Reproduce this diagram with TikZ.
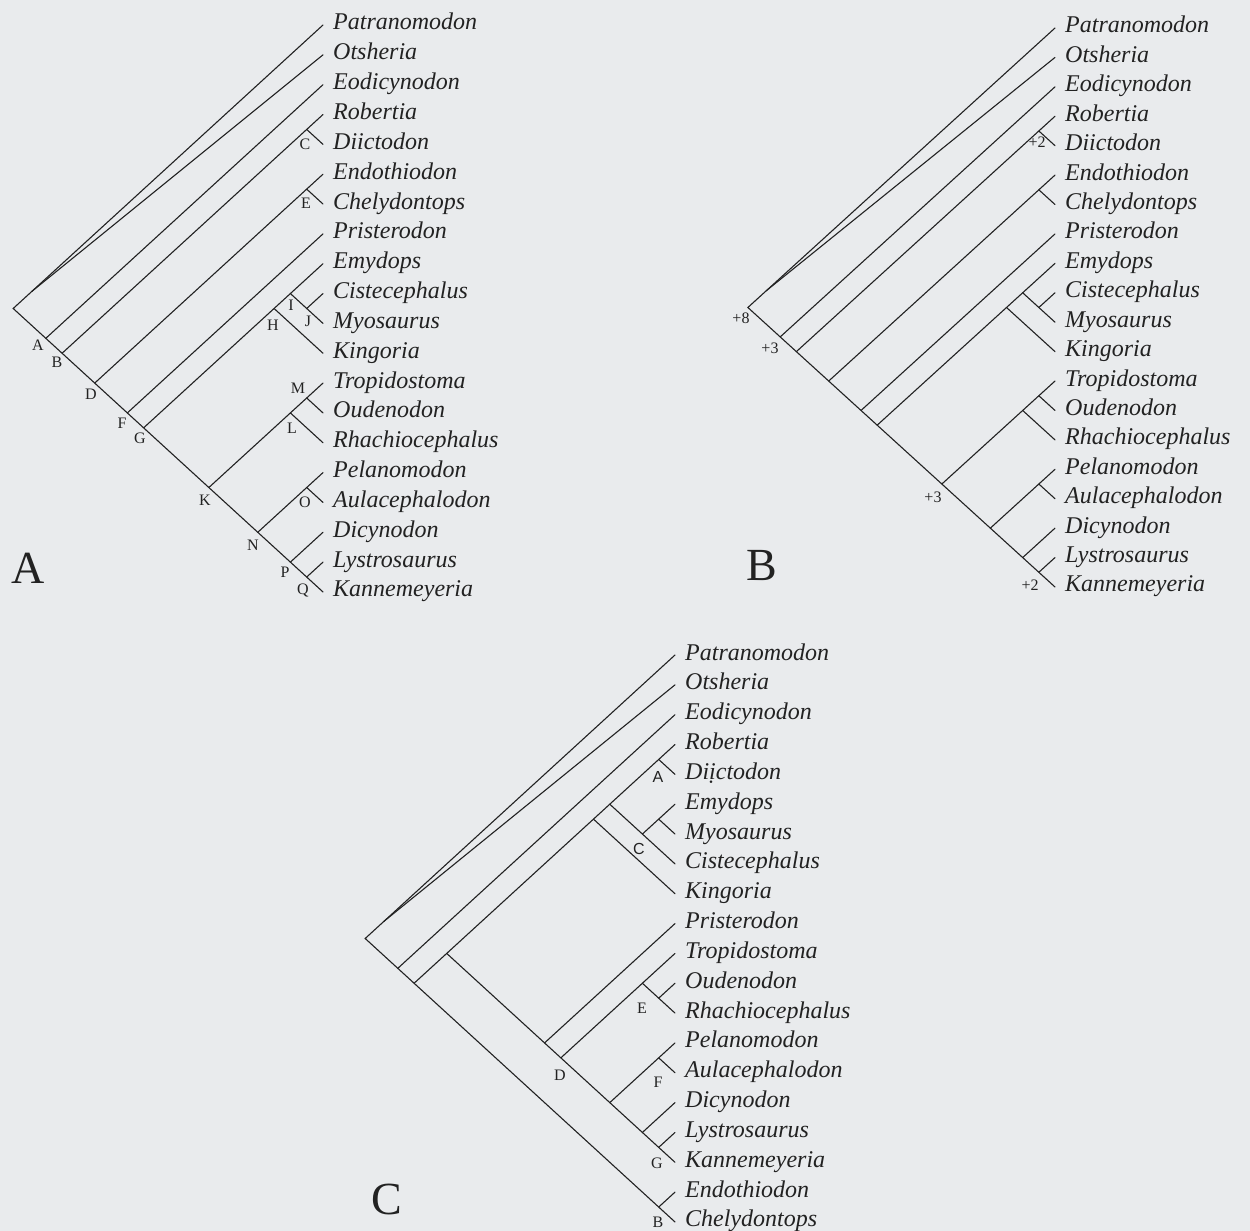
\documentclass[tikz,border=0pt]{standalone}
\usepackage{fontspec}
\setmainfont{Liberation Serif}
\newfontfamily\lsans{Liberation Sans}
\usetikzlibrary{calc}
\definecolor{paper}{HTML}{E9EBED}
\definecolor{ink}{HTML}{222222}
\tikzset{
  branch/.style={draw=ink, line width=1.1pt, line cap=round},
  taxon/.style={anchor=base west, inner sep=0pt, font=\fontsize{24}{24}\selectfont\itshape, text=ink},
  lab/.style={inner sep=0pt, font=\fontsize{16}{16}\selectfont, text=ink},
  panel/.style={anchor=base, inner sep=0pt, font=\fontsize{46}{46}\selectfont, text=ink},
}
\newcommand\Tx{0}\newcommand\Yo{0}\newcommand\Dy{0}\newcommand\Sl{1}
\newcommand\settree[4]{\renewcommand\Tx{#1}\renewcommand\Yo{#2}\renewcommand\Dy{#3}\renewcommand\Sl{#4}}
\newcommand\tip[3]{%
  \pgfmathsetmacro\myY{\Yo+#2*\Dy}%
  \coordinate (#1#2) at (\Tx,\myY);
  \node[taxon] (#1t#2) at (\Tx+10,\myY+5) {#3};}
\newcommand\clade[3]{%
  \pgfmathsetmacro\myX{\Tx-(#3-#2)*\Dy/(2*\Sl)}%
  \pgfmathsetmacro\myY{\Yo+(#2+#3)*\Dy/2}%
  \coordinate (#1) at (\myX,\myY);}
\begin{document}
\begin{tikzpicture}[x=1pt,y=-1pt]
\fill[paper] (0,0) rectangle (1250,1231);
\useasboundingbox (0,0) rectangle (1250,1231);

% ================= Tree A =================
\settree{323}{25}{29.84}{0.915}
\foreach \n [count=\i from 0] in {Patranomodon,Otsheria,Eodicynodon,Robertia,Diictodon,Endothiodon,Chelydontops,Pristerodon,Emydops,Cistecephalus,Myosaurus,Kingoria,Tropidostoma,Oudenodon,Rhachiocephalus,Pelanomodon,Aulacephalodon,Dicynodon,Lystrosaurus,Kannemeyeria}{\tip{a}{\i}{\n}}
\clade{aR}{0}{19}
\clade{aA}{2}{19}\clade{aB}{3}{19}\clade{aC}{3}{4}
\clade{aD}{5}{19}\clade{aE}{5}{6}
\clade{aF}{7}{19}
\clade{aG}{8}{19}\clade{aH}{8}{11}\clade{aI}{8}{10}\clade{aJ}{9}{10}
\clade{aK}{12}{19}\clade{aL}{12}{14}\clade{aM}{12}{13}
\clade{aN}{15}{19}\clade{aO}{15}{16}
\clade{aP}{17}{19}\clade{aQ}{18}{19}
\coordinate (aX) at ($(aR)!0.06!(a0)$);
\draw[branch] (a0) -- (aR) -- (a19);
\draw[branch] (a1) -- (aX);
\draw[branch] (aA) -- (a2);
\draw[branch] (aB) -- (a3);
\draw[branch] (aC) -- (a4);
\draw[branch] (aD) -- (a5);
\draw[branch] (aE) -- (a6);
\draw[branch] (aF) -- (a7);
\draw[branch] (aG) -- (a8);
\draw[branch] (aH) -- (a11);
\draw[branch] (aI) -- (a10);
\draw[branch] (aJ) -- (a9);
\draw[branch] (aK) -- (a12);
\draw[branch] (aL) -- (a14);
\draw[branch] (aM) -- (a13);
\draw[branch] (aN) -- (a15);
\draw[branch] (aO) -- (a16);
\draw[branch] (aP) -- (a17);
\draw[branch] (aQ) -- (a18);
\node[lab] (laA) at (38,345) {A};
\node[lab] (laB) at (57,362) {B};
\node[lab] (laC) at (305,144) {C};
\node[lab] (laD) at (91,394) {D};
\node[lab] (laE) at (306,203) {E};
\node[lab] (laF) at (122,423) {F};
\node[lab] (laG) at (140,438) {G};
\node[lab] (laH) at (273,325) {H};
\node[lab] (laI) at (291,305) {I};
\node[lab] (laJ) at (308,321) {J};
\node[lab] (laK) at (205,500) {K};
\node[lab] (laL) at (292,428) {L};
\node[lab] (laM) at (298,388) {M};
\node[lab] (laN) at (253,545) {N};
\node[lab] (laO) at (305,502) {O};
\node[lab] (laP) at (285,572) {P};
\node[lab] (laQ) at (303,590) {Q};
\node[panel] (pA) at (28,583) {A};

% ================= Tree B =================
\settree{1055}{28}{29.42}{0.91}
\foreach \n [count=\i from 0] in {Patranomodon,Otsheria,Eodicynodon,Robertia,Diictodon,Endothiodon,Chelydontops,Pristerodon,Emydops,Cistecephalus,Myosaurus,Kingoria,Tropidostoma,Oudenodon,Rhachiocephalus,Pelanomodon,Aulacephalodon,Dicynodon,Lystrosaurus,Kannemeyeria}{\tip{b}{\i}{\n}}
\clade{bR}{0}{19}
\clade{bA}{2}{19}\clade{bB}{3}{19}\clade{bC}{3}{4}
\clade{bD}{5}{19}\clade{bE}{5}{6}
\clade{bF}{7}{19}
\clade{bG}{8}{19}\clade{bH}{8}{11}\clade{bI}{8}{10}\clade{bJ}{9}{10}
\clade{bK}{12}{19}\clade{bL}{12}{14}\clade{bM}{12}{13}
\clade{bN}{15}{19}\clade{bO}{15}{16}
\clade{bP}{17}{19}\clade{bQ}{18}{19}
\coordinate (bX) at ($(bR)!0.06!(b0)$);
\draw[branch] (b0) -- (bR) -- (b19);
\draw[branch] (b1) -- (bX);
\draw[branch] (bA) -- (b2);
\draw[branch] (bB) -- (b3);
\draw[branch] (bC) -- (b4);
\draw[branch] (bD) -- (b5);
\draw[branch] (bE) -- (b6);
\draw[branch] (bF) -- (b7);
\draw[branch] (bG) -- (b8);
\draw[branch] (bH) -- (b11);
\draw[branch] (bI) -- (b10);
\draw[branch] (bJ) -- (b9);
\draw[branch] (bK) -- (b12);
\draw[branch] (bL) -- (b14);
\draw[branch] (bM) -- (b13);
\draw[branch] (bN) -- (b15);
\draw[branch] (bO) -- (b16);
\draw[branch] (bP) -- (b17);
\draw[branch] (bQ) -- (b18);
\node[lab] (lb8) at (741,318) {+8};
\node[lab] (lb3a) at (770,348) {+3};
\node[lab] (lb2a) at (1037,142) {+2};
\node[lab] (lb3b) at (933,497) {+3};
\node[lab] (lb2b) at (1030,585) {+2};
\node[panel] (pB) at (762,580) {B};

% ================= Tree C =================
\settree{675}{655}{29.84}{0.915}
\foreach \n [count=\i from 0] in {Patranomodon,Otsheria,Eodicynodon,Robertia,Di\d{i}ctodon,Emydops,Myosaurus,Cistecephalus,Kingoria,Pristerodon,Tropidostoma,Oudenodon,Rhachiocephalus,Pelanomodon,Aulacephalodon,Dicynodon,Lystrosaurus,Kannemeyeria,Endothiodon,Chelydontops}{\tip{c}{\i}{\n}}
\clade{cR}{0}{19}
\clade{c2n}{2}{19}
\clade{c3n}{3}{19}
\clade{c3q}{3}{17}
\clade{c38}{3}{8}
\clade{c37}{3}{7}
\clade{c57}{5}{7}
\clade{c56}{5}{6}
\clade{c34}{3}{4}
\clade{c917}{9}{17}
\clade{c1017}{10}{17}
\clade{c1012}{10}{12}
\clade{c1112}{11}{12}
\clade{c1317}{13}{17}
\clade{c1314}{13}{14}
\clade{c1517}{15}{17}
\clade{c1617}{16}{17}
\clade{c1819}{18}{19}
\coordinate (cX) at ($(cR)!0.06!(c0)$);
\draw[branch] (c0) -- (cR) -- (c19);
\draw[branch] (c1) -- (cX);
\draw[branch] (c2n) -- (c2);
\draw[branch] (c3n) -- (c3);
\draw[branch] (c3q) -- (c17);
\draw[branch] (c38) -- (c8);
\draw[branch] (c37) -- (c7);
\draw[branch] (c57) -- (c5);
\draw[branch] (c56) -- (c6);
\draw[branch] (c34) -- (c4);
\draw[branch] (c917) -- (c9);
\draw[branch] (c1017) -- (c10);
\draw[branch] (c1012) -- (c12);
\draw[branch] (c1112) -- (c11);
\draw[branch] (c1317) -- (c13);
\draw[branch] (c1314) -- (c14);
\draw[branch] (c1517) -- (c15);
\draw[branch] (c1617) -- (c16);
\draw[branch] (c1819) -- (c18);
\node[lab,font=\fontsize{16}{16}\selectfont\lsans] (lcA) at (658,777) {A};
\node[lab,font=\fontsize{16}{16}\selectfont\lsans] (lcC) at (639,849) {C};
\node[lab] (lcE) at (642,1008) {E};
\node[lab] (lcD) at (560,1075) {D};
\node[lab] (lcF) at (658,1082) {F};
\node[lab] (lcG) at (657,1163) {G};
\node[lab] (lcB) at (658,1222) {B};
\node[panel] (pC) at (387,1214) {C};
\end{tikzpicture}
\end{document}
